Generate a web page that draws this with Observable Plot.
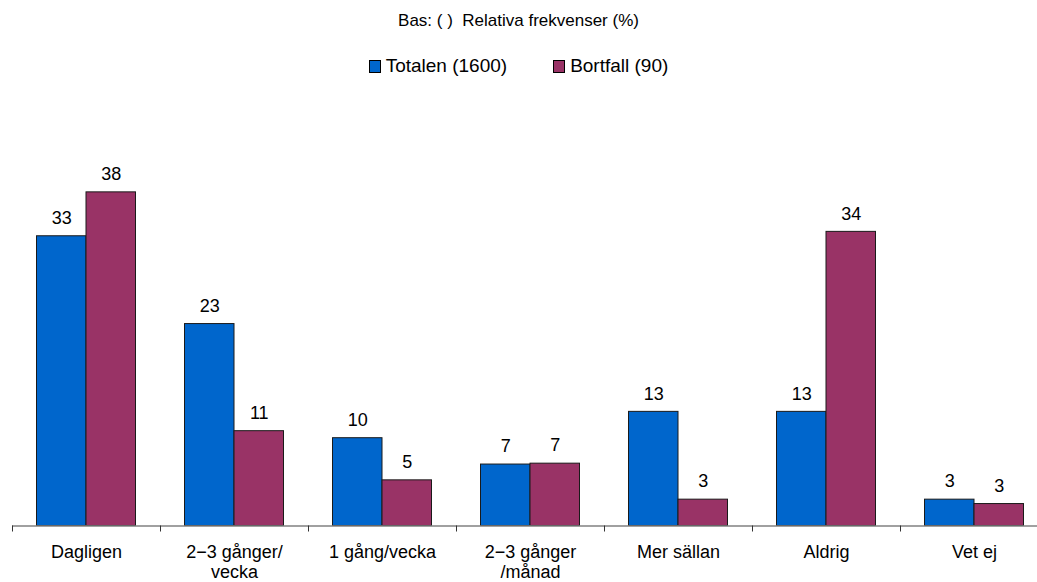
<!DOCTYPE html>
<html><head><meta charset="utf-8">
<script src="https://cdn.jsdelivr.net/npm/d3@7"></script>
<script src="https://cdn.jsdelivr.net/npm/@observablehq/plot@0.6"></script>
<style>
html,body{margin:0;padding:0;background:#fff;overflow:hidden;font-family:"Liberation Sans",Arial,sans-serif;color:#000}
#sub{height:42px;line-height:42px;text-align:center;font-size:17px;white-space:pre}
#legend{height:48px;display:flex;justify-content:center;align-items:center;font-size:19px}
.item{display:flex;align-items:center;margin:0 23px}
.sw{width:10px;height:11px;border:1px solid #000;margin-right:5px}
#chart svg{display:block}
</style></head><body>
<div id="sub">Bas: ( )  Relativa frekvenser (%)</div>
<div id="legend"></div>
<div id="chart"></div>
<script>
const categories = ["Dagligen", "2−3 gånger/\nvecka", "1 gång/vecka", "2−3 gånger\n/månad", "Mer sällan", "Aldrig", "Vet ej"];
const seriesNames = ["Totalen (1600)", "Bortfall (90)"];
const totalen = [33, 23, 10, 7, 13, 13, 3];
const bortfall = [38, 10.8, 5.2, 7.1, 3, 33.5, 2.5];
const colors = ["#0066CC", "#993366"];

const data = [];
categories.forEach((c, i) => {
  data.push({cat: c, series: seriesNames[0], value: totalen[i]});
  data.push({cat: c, series: seriesNames[1], value: bortfall[i]});
});

const legend = document.getElementById("legend");
seriesNames.forEach((s, i) => {
  const it = document.createElement("div");
  it.className = "item";
  const sw = document.createElement("span");
  sw.className = "sw";
  sw.style.background = colors[i];
  it.appendChild(sw);
  it.appendChild(document.createTextNode(s));
  legend.appendChild(it);
});

const bw = 148;
const half = 49.5;
const outer = (bw - 2 * half) / 2;

const plot = Plot.plot({
  width: 1037,
  height: 492,
  marginLeft: 12,
  marginRight: -11,
  marginTop: 84.3,
  marginBottom: 56.5,
  style: {fontFamily: "'Liberation Sans', Arial, sans-serif", fontSize: "18px", background: "#fff", maxWidth: "none"},
  x: {domain: categories, padding: 0, label: null},
  y: {domain: [0, 40], axis: null},
  color: {domain: seriesNames, range: colors},
  marks: [
    Plot.barY(data.filter(d => d.series === seriesNames[0]), {x: "cat", y: "value", fill: "series", stroke: "#1a1a1a", strokeWidth: 1, insetLeft: outer, insetRight: bw - outer - half}),
    Plot.barY(data.filter(d => d.series === seriesNames[1]), {x: "cat", y: "value", fill: "series", stroke: "#1a1a1a", strokeWidth: 1, insetLeft: outer + half, insetRight: outer}),
    Plot.text(data.filter(d => d.series === seriesNames[0]), {x: "cat", y: "value", text: d => d3.format(".0f")(d.value), dx: -half / 2, dy: -18, fill: "#000", fontSize: 18}),
    Plot.text(data.filter(d => d.series === seriesNames[1]), {x: "cat", y: "value", text: d => d3.format(".0f")(d.value), dx: half / 2, dy: -18, fill: "#000", fontSize: 18}),
    Plot.ruleY([0], {stroke: "#808080", strokeWidth: 1.5}),
    Plot.axisX({tickSize: 6, tickFormat: () => "", dx: -bw / 2, stroke: "#333", label: null}),
    Plot.axisX({tickSize: 0, tickPadding: 18, lineHeight: 1.12, fontSize: 18, fill: "#000", label: null})
  ]
});
document.getElementById("chart").appendChild(plot);
</script>
</body></html>
